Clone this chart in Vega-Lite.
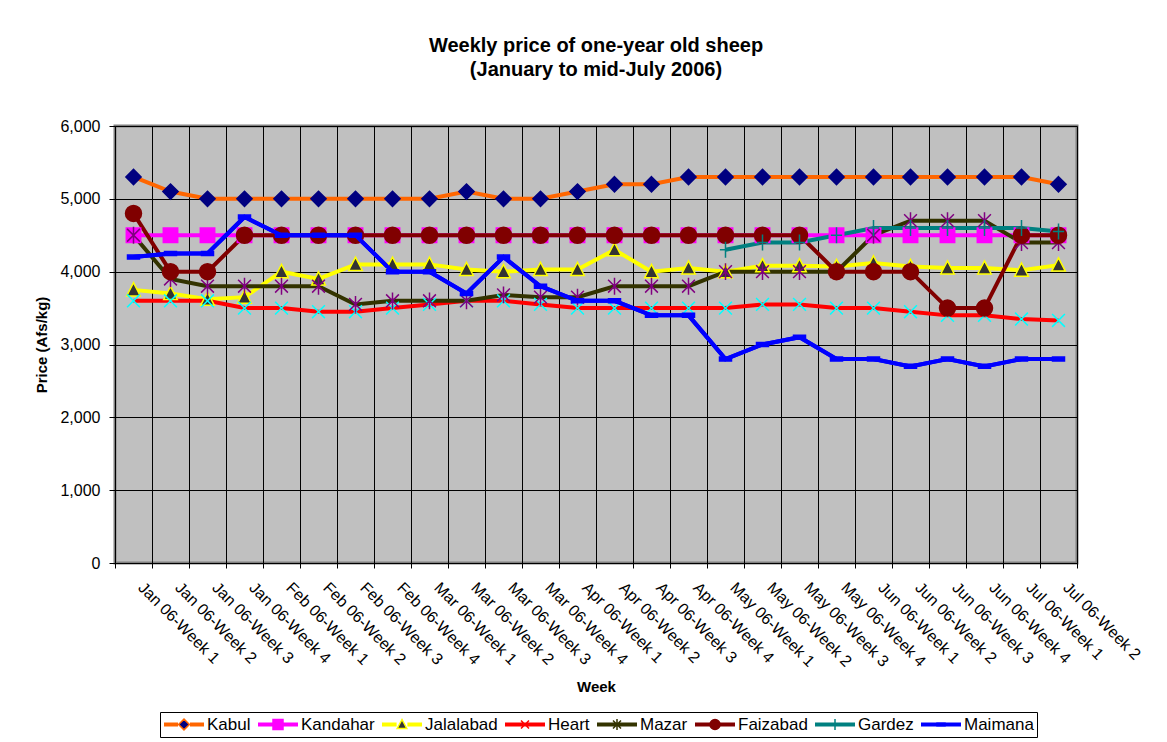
{
  "$schema": "https://vega.github.io/schema/vega-lite/v6.json",
  "width": 962,
  "height": 437,
  "autosize": {"type": "none"},
  "padding": {"left": 115, "top": 126, "right": 90, "bottom": 179},
  "background": "white",
  "title": {
    "text": ["Weekly price of one-year old sheep", "(January to mid-July 2006)"],
    "font": "Liberation Sans",
    "fontSize": 20,
    "fontWeight": "bold",
    "color": "black",
    "lineHeight": 24,
    "offset": 38,
    "anchor": "middle",
    "frame": "group"
  },
  "config": {
    "font": "Liberation Sans",
    "view": {"fill": "#C0C0C0", "stroke": "#808080", "strokeWidth": 3}
  },
  "data": {
    "values": [
      {"week": "Jan 06-Week 1", "city": "Kabul", "price": 5300},
      {"week": "Jan 06-Week 2", "city": "Kabul", "price": 5100},
      {"week": "Jan 06-Week 3", "city": "Kabul", "price": 5000},
      {"week": "Jan 06-Week 4", "city": "Kabul", "price": 5000},
      {"week": "Feb 06-Week 1", "city": "Kabul", "price": 5000},
      {"week": "Feb 06-Week 2", "city": "Kabul", "price": 5000},
      {"week": "Feb 06-Week 3", "city": "Kabul", "price": 5000},
      {"week": "Feb 06-Week 4", "city": "Kabul", "price": 5000},
      {"week": "Mar 06-Week 1", "city": "Kabul", "price": 5000},
      {"week": "Mar 06-Week 2", "city": "Kabul", "price": 5100},
      {"week": "Mar 06-Week 3", "city": "Kabul", "price": 5000},
      {"week": "Mar 06-Week 4", "city": "Kabul", "price": 5000},
      {"week": "Apr 06-Week 1", "city": "Kabul", "price": 5100},
      {"week": "Apr 06-Week 2", "city": "Kabul", "price": 5200},
      {"week": "Apr 06-Week 3", "city": "Kabul", "price": 5200},
      {"week": "Apr 06-Week 4", "city": "Kabul", "price": 5300},
      {"week": "May 06-Week 1", "city": "Kabul", "price": 5300},
      {"week": "May 06-Week 2", "city": "Kabul", "price": 5300},
      {"week": "May 06-Week 3", "city": "Kabul", "price": 5300},
      {"week": "May 06-Week 4", "city": "Kabul", "price": 5300},
      {"week": "Jun 06-Week 1", "city": "Kabul", "price": 5300},
      {"week": "Jun 06-Week 2", "city": "Kabul", "price": 5300},
      {"week": "Jun 06-Week 3", "city": "Kabul", "price": 5300},
      {"week": "Jun 06-Week 4", "city": "Kabul", "price": 5300},
      {"week": "Jul 06-Week 1", "city": "Kabul", "price": 5300},
      {"week": "Jul 06-Week 2", "city": "Kabul", "price": 5200},

      {"week": "Jan 06-Week 1", "city": "Kandahar", "price": 4500},
      {"week": "Jan 06-Week 2", "city": "Kandahar", "price": 4500},
      {"week": "Jan 06-Week 3", "city": "Kandahar", "price": 4500},
      {"week": "Jan 06-Week 4", "city": "Kandahar", "price": 4500},
      {"week": "Feb 06-Week 1", "city": "Kandahar", "price": 4500},
      {"week": "Feb 06-Week 2", "city": "Kandahar", "price": 4500},
      {"week": "Feb 06-Week 3", "city": "Kandahar", "price": 4500},
      {"week": "Feb 06-Week 4", "city": "Kandahar", "price": 4500},
      {"week": "Mar 06-Week 1", "city": "Kandahar", "price": 4500},
      {"week": "Mar 06-Week 2", "city": "Kandahar", "price": 4500},
      {"week": "Mar 06-Week 3", "city": "Kandahar", "price": 4500},
      {"week": "Mar 06-Week 4", "city": "Kandahar", "price": 4500},
      {"week": "Apr 06-Week 1", "city": "Kandahar", "price": 4500},
      {"week": "Apr 06-Week 2", "city": "Kandahar", "price": 4500},
      {"week": "Apr 06-Week 3", "city": "Kandahar", "price": 4500},
      {"week": "Apr 06-Week 4", "city": "Kandahar", "price": 4500},
      {"week": "May 06-Week 1", "city": "Kandahar", "price": 4500},
      {"week": "May 06-Week 2", "city": "Kandahar", "price": 4500},
      {"week": "May 06-Week 3", "city": "Kandahar", "price": 4500},
      {"week": "May 06-Week 4", "city": "Kandahar", "price": 4500},
      {"week": "Jun 06-Week 1", "city": "Kandahar", "price": 4500},
      {"week": "Jun 06-Week 2", "city": "Kandahar", "price": 4500},
      {"week": "Jun 06-Week 3", "city": "Kandahar", "price": 4500},
      {"week": "Jun 06-Week 4", "city": "Kandahar", "price": 4500},
      {"week": "Jul 06-Week 1", "city": "Kandahar", "price": 4500},
      {"week": "Jul 06-Week 2", "city": "Kandahar", "price": 4500},

      {"week": "Jan 06-Week 1", "city": "Jalalabad", "price": 3750},
      {"week": "Jan 06-Week 2", "city": "Jalalabad", "price": 3700},
      {"week": "Jan 06-Week 3", "city": "Jalalabad", "price": 3620},
      {"week": "Jan 06-Week 4", "city": "Jalalabad", "price": 3650},
      {"week": "Feb 06-Week 1", "city": "Jalalabad", "price": 4000},
      {"week": "Feb 06-Week 2", "city": "Jalalabad", "price": 3900},
      {"week": "Feb 06-Week 3", "city": "Jalalabad", "price": 4100},
      {"week": "Feb 06-Week 4", "city": "Jalalabad", "price": 4100},
      {"week": "Mar 06-Week 1", "city": "Jalalabad", "price": 4100},
      {"week": "Mar 06-Week 2", "city": "Jalalabad", "price": 4030},
      {"week": "Mar 06-Week 3", "city": "Jalalabad", "price": 4000},
      {"week": "Mar 06-Week 4", "city": "Jalalabad", "price": 4030},
      {"week": "Apr 06-Week 1", "city": "Jalalabad", "price": 4030},
      {"week": "Apr 06-Week 2", "city": "Jalalabad", "price": 4300},
      {"week": "Apr 06-Week 3", "city": "Jalalabad", "price": 4000},
      {"week": "Apr 06-Week 4", "city": "Jalalabad", "price": 4050},
      {"week": "May 06-Week 1", "city": "Jalalabad", "price": 4000},
      {"week": "May 06-Week 2", "city": "Jalalabad", "price": 4080},
      {"week": "May 06-Week 3", "city": "Jalalabad", "price": 4080},
      {"week": "May 06-Week 4", "city": "Jalalabad", "price": 4070},
      {"week": "Jun 06-Week 1", "city": "Jalalabad", "price": 4120},
      {"week": "Jun 06-Week 2", "city": "Jalalabad", "price": 4070},
      {"week": "Jun 06-Week 3", "city": "Jalalabad", "price": 4050},
      {"week": "Jun 06-Week 4", "city": "Jalalabad", "price": 4050},
      {"week": "Jul 06-Week 1", "city": "Jalalabad", "price": 4020},
      {"week": "Jul 06-Week 2", "city": "Jalalabad", "price": 4090},

      {"week": "Jan 06-Week 1", "city": "Heart", "price": 3600},
      {"week": "Jan 06-Week 2", "city": "Heart", "price": 3600},
      {"week": "Jan 06-Week 3", "city": "Heart", "price": 3600},
      {"week": "Jan 06-Week 4", "city": "Heart", "price": 3500},
      {"week": "Feb 06-Week 1", "city": "Heart", "price": 3500},
      {"week": "Feb 06-Week 2", "city": "Heart", "price": 3450},
      {"week": "Feb 06-Week 3", "city": "Heart", "price": 3450},
      {"week": "Feb 06-Week 4", "city": "Heart", "price": 3500},
      {"week": "Mar 06-Week 1", "city": "Heart", "price": 3550},
      {"week": "Mar 06-Week 2", "city": "Heart", "price": 3600},
      {"week": "Mar 06-Week 3", "city": "Heart", "price": 3600},
      {"week": "Mar 06-Week 4", "city": "Heart", "price": 3550},
      {"week": "Apr 06-Week 1", "city": "Heart", "price": 3500},
      {"week": "Apr 06-Week 2", "city": "Heart", "price": 3500},
      {"week": "Apr 06-Week 3", "city": "Heart", "price": 3500},
      {"week": "Apr 06-Week 4", "city": "Heart", "price": 3500},
      {"week": "May 06-Week 1", "city": "Heart", "price": 3500},
      {"week": "May 06-Week 2", "city": "Heart", "price": 3550},
      {"week": "May 06-Week 3", "city": "Heart", "price": 3550},
      {"week": "May 06-Week 4", "city": "Heart", "price": 3500},
      {"week": "Jun 06-Week 1", "city": "Heart", "price": 3500},
      {"week": "Jun 06-Week 2", "city": "Heart", "price": 3450},
      {"week": "Jun 06-Week 3", "city": "Heart", "price": 3400},
      {"week": "Jun 06-Week 4", "city": "Heart", "price": 3400},
      {"week": "Jul 06-Week 1", "city": "Heart", "price": 3350},
      {"week": "Jul 06-Week 2", "city": "Heart", "price": 3330},

      {"week": "Jan 06-Week 1", "city": "Mazar", "price": 4500},
      {"week": "Jan 06-Week 2", "city": "Mazar", "price": 3900},
      {"week": "Jan 06-Week 3", "city": "Mazar", "price": 3800},
      {"week": "Jan 06-Week 4", "city": "Mazar", "price": 3800},
      {"week": "Feb 06-Week 1", "city": "Mazar", "price": 3800},
      {"week": "Feb 06-Week 2", "city": "Mazar", "price": 3800},
      {"week": "Feb 06-Week 3", "city": "Mazar", "price": 3550},
      {"week": "Feb 06-Week 4", "city": "Mazar", "price": 3600},
      {"week": "Mar 06-Week 1", "city": "Mazar", "price": 3600},
      {"week": "Mar 06-Week 2", "city": "Mazar", "price": 3600},
      {"week": "Mar 06-Week 3", "city": "Mazar", "price": 3680},
      {"week": "Mar 06-Week 4", "city": "Mazar", "price": 3650},
      {"week": "Apr 06-Week 1", "city": "Mazar", "price": 3650},
      {"week": "Apr 06-Week 2", "city": "Mazar", "price": 3800},
      {"week": "Apr 06-Week 3", "city": "Mazar", "price": 3800},
      {"week": "Apr 06-Week 4", "city": "Mazar", "price": 3800},
      {"week": "May 06-Week 1", "city": "Mazar", "price": 4000},
      {"week": "May 06-Week 2", "city": "Mazar", "price": 4000},
      {"week": "May 06-Week 3", "city": "Mazar", "price": 4000},
      {"week": "May 06-Week 4", "city": "Mazar", "price": 4000},
      {"week": "Jun 06-Week 1", "city": "Mazar", "price": 4500},
      {"week": "Jun 06-Week 2", "city": "Mazar", "price": 4700},
      {"week": "Jun 06-Week 3", "city": "Mazar", "price": 4700},
      {"week": "Jun 06-Week 4", "city": "Mazar", "price": 4700},
      {"week": "Jul 06-Week 1", "city": "Mazar", "price": 4400},
      {"week": "Jul 06-Week 2", "city": "Mazar", "price": 4400},

      {"week": "Jan 06-Week 1", "city": "Faizabad", "price": 4800},
      {"week": "Jan 06-Week 2", "city": "Faizabad", "price": 4000},
      {"week": "Jan 06-Week 3", "city": "Faizabad", "price": 4000},
      {"week": "Jan 06-Week 4", "city": "Faizabad", "price": 4500},
      {"week": "Feb 06-Week 1", "city": "Faizabad", "price": 4500},
      {"week": "Feb 06-Week 2", "city": "Faizabad", "price": 4500},
      {"week": "Feb 06-Week 3", "city": "Faizabad", "price": 4500},
      {"week": "Feb 06-Week 4", "city": "Faizabad", "price": 4500},
      {"week": "Mar 06-Week 1", "city": "Faizabad", "price": 4500},
      {"week": "Mar 06-Week 2", "city": "Faizabad", "price": 4500},
      {"week": "Mar 06-Week 3", "city": "Faizabad", "price": 4500},
      {"week": "Mar 06-Week 4", "city": "Faizabad", "price": 4500},
      {"week": "Apr 06-Week 1", "city": "Faizabad", "price": 4500},
      {"week": "Apr 06-Week 2", "city": "Faizabad", "price": 4500},
      {"week": "Apr 06-Week 3", "city": "Faizabad", "price": 4500},
      {"week": "Apr 06-Week 4", "city": "Faizabad", "price": 4500},
      {"week": "May 06-Week 1", "city": "Faizabad", "price": 4500},
      {"week": "May 06-Week 2", "city": "Faizabad", "price": 4500},
      {"week": "May 06-Week 3", "city": "Faizabad", "price": 4500},
      {"week": "May 06-Week 4", "city": "Faizabad", "price": 4000},
      {"week": "Jun 06-Week 1", "city": "Faizabad", "price": 4000},
      {"week": "Jun 06-Week 2", "city": "Faizabad", "price": 4000},
      {"week": "Jun 06-Week 3", "city": "Faizabad", "price": 3500},
      {"week": "Jun 06-Week 4", "city": "Faizabad", "price": 3500},
      {"week": "Jul 06-Week 1", "city": "Faizabad", "price": 4500},
      {"week": "Jul 06-Week 2", "city": "Faizabad", "price": 4500},

      {"week": "May 06-Week 1", "city": "Gardez", "price": 4300},
      {"week": "May 06-Week 2", "city": "Gardez", "price": 4400},
      {"week": "May 06-Week 3", "city": "Gardez", "price": 4400},
      {"week": "May 06-Week 4", "city": "Gardez", "price": 4500},
      {"week": "Jun 06-Week 1", "city": "Gardez", "price": 4600},
      {"week": "Jun 06-Week 2", "city": "Gardez", "price": 4600},
      {"week": "Jun 06-Week 3", "city": "Gardez", "price": 4600},
      {"week": "Jun 06-Week 4", "city": "Gardez", "price": 4600},
      {"week": "Jul 06-Week 1", "city": "Gardez", "price": 4600},
      {"week": "Jul 06-Week 2", "city": "Gardez", "price": 4550},

      {"week": "Jan 06-Week 1", "city": "Maimana", "price": 4200},
      {"week": "Jan 06-Week 2", "city": "Maimana", "price": 4250},
      {"week": "Jan 06-Week 3", "city": "Maimana", "price": 4250},
      {"week": "Jan 06-Week 4", "city": "Maimana", "price": 4750},
      {"week": "Feb 06-Week 1", "city": "Maimana", "price": 4500},
      {"week": "Feb 06-Week 2", "city": "Maimana", "price": 4500},
      {"week": "Feb 06-Week 3", "city": "Maimana", "price": 4500},
      {"week": "Feb 06-Week 4", "city": "Maimana", "price": 4000},
      {"week": "Mar 06-Week 1", "city": "Maimana", "price": 4000},
      {"week": "Mar 06-Week 2", "city": "Maimana", "price": 3700},
      {"week": "Mar 06-Week 3", "city": "Maimana", "price": 4200},
      {"week": "Mar 06-Week 4", "city": "Maimana", "price": 3800},
      {"week": "Apr 06-Week 1", "city": "Maimana", "price": 3600},
      {"week": "Apr 06-Week 2", "city": "Maimana", "price": 3600},
      {"week": "Apr 06-Week 3", "city": "Maimana", "price": 3400},
      {"week": "Apr 06-Week 4", "city": "Maimana", "price": 3400},
      {"week": "May 06-Week 1", "city": "Maimana", "price": 2800},
      {"week": "May 06-Week 2", "city": "Maimana", "price": 3000},
      {"week": "May 06-Week 3", "city": "Maimana", "price": 3100},
      {"week": "May 06-Week 4", "city": "Maimana", "price": 2800},
      {"week": "Jun 06-Week 1", "city": "Maimana", "price": 2800},
      {"week": "Jun 06-Week 2", "city": "Maimana", "price": 2700},
      {"week": "Jun 06-Week 3", "city": "Maimana", "price": 2800},
      {"week": "Jun 06-Week 4", "city": "Maimana", "price": 2700},
      {"week": "Jul 06-Week 1", "city": "Maimana", "price": 2800},
      {"week": "Jul 06-Week 2", "city": "Maimana", "price": 2800}
    ]
  },
  "encoding": {
    "x": {
      "field": "week",
      "type": "ordinal",
      "sort": null,
      "scale": {
        "type": "band",
        "paddingInner": 0,
        "paddingOuter": 0,
        "domain": ["Jan 06-Week 1","Jan 06-Week 2","Jan 06-Week 3","Jan 06-Week 4","Feb 06-Week 1","Feb 06-Week 2","Feb 06-Week 3","Feb 06-Week 4","Mar 06-Week 1","Mar 06-Week 2","Mar 06-Week 3","Mar 06-Week 4","Apr 06-Week 1","Apr 06-Week 2","Apr 06-Week 3","Apr 06-Week 4","May 06-Week 1","May 06-Week 2","May 06-Week 3","May 06-Week 4","Jun 06-Week 1","Jun 06-Week 2","Jun 06-Week 3","Jun 06-Week 4","Jul 06-Week 1","Jul 06-Week 2"]
      },
      "axis": {
        "title": "Week",
        "titleFontSize": 15,
        "titleFontWeight": "bold",
        "titleColor": "black",
        "titleY": 128,
        "titleBaseline": "alphabetic",
        "bandPosition": 1,
        "tickExtra": true,
        "grid": true,
        "gridColor": "black",
        "gridOpacity": 1,
        "gridWidth": 1,
        "ticks": true,
        "tickColor": "black",
        "tickSize": 5,
        "domainColor": "black",
        "labelAngle": 45,
        "labelAlign": "left",
        "labelBaseline": "top",
        "labelOffset": 13,
        "labelPadding": 11,
        "labelFontSize": 16,
        "labelColor": "black",
        "labelOverlap": false,
        "labelBound": false
      }
    },
    "y": {
      "field": "price",
      "type": "quantitative",
      "scale": {"domain": [0, 6000], "nice": false},
      "axis": {
        "title": "Price (Afs/kg)",
        "titleFontSize": 15,
        "titleFontWeight": "bold",
        "titleColor": "black",
        "titleX": -74,
        "titleY": 218.5,
        "titleBaseline": "middle",
        "values": [0, 1000, 2000, 3000, 4000, 5000, 6000],
        "format": ",.0f",
        "grid": true,
        "gridColor": "black",
        "gridOpacity": 1,
        "tickColor": "black",
        "tickSize": 6,
        "labelPadding": 9,
        "labelFontSize": 16,
        "labelColor": "black",
        "domainColor": "black"
      }
    }
  },
  "layer": [
    {
      "mark": {"type": "line", "strokeWidth": 4},
      "encoding": {
        "color": {
          "field": "city",
          "type": "nominal",
          "sort": null,
          "scale": {"range": ["#FF6600", "#FF00FF", "#FFFF00", "#FF0000", "#333300", "#800000", "#008080", "#0000FF"]},
          "legend": {
            "orient": "none",
            "legendX": 45,
            "legendY": 586,
            "direction": "horizontal",
            "columns": 8,
            "title": null,
            "symbolType": "stroke",
            "symbolSize": 1600,
            "symbolStrokeWidth": 1.5,
            "labelFontSize": 17,
            "labelColor": "black",
            "labelOffset": 2,
            "columnPadding": 6,
            "padding": 3,
            "clipHeight": 19,
            "strokeColor": "black",
            "fillColor": "white",
            "encode": {
              "symbols": {
                "update": {
                  "strokeWidth": {"value": 1.5},
                  "shape": {"signal": "datum.value === 'Kabul' ? 'M-1,-0.06L-0.3,-0.06M-1,0L-0.3,0M-1,0.06L-0.3,0.06M0.3,-0.06L1,-0.06M0.3,0L1,0M0.3,0.06L1,0.06M0,-0.27L0.27,0L0,0.27L-0.27,0Z' : datum.value === 'Kandahar' ? 'M-1,-0.06L-0.28,-0.06M-1,0L-0.28,0M-1,0.06L-0.28,0.06M0.28,-0.06L1,-0.06M0.28,0L1,0M0.28,0.06L1,0.06M-0.25,-0.25L0.25,-0.25L0.25,0.25L-0.25,0.25Z' : datum.value === 'Jalalabad' ? 'M-1,-0.06L-0.27,-0.06M-1,0L-0.27,0M-1,0.06L-0.27,0.06M0.27,-0.06L1,-0.06M0.27,0L1,0M0.27,0.06L1,0.06M0,-0.25L0.24,0.2L-0.24,0.2Z' : datum.value === 'Heart' ? 'M-1,-0.06L1,-0.06M-1,0L1,0M-1,0.06L1,0.06M-0.2,-0.2L0.2,0.2M-0.2,0.2L0.2,-0.2' : datum.value === 'Mazar' ? 'M-1,-0.06L1,-0.06M-1,0L1,0M-1,0.06L1,0.06M-0.2,-0.2L0.2,0.2M-0.2,0.2L0.2,-0.2M0,-0.27L0,0.27' : datum.value === 'Faizabad' ? 'M-1,-0.06L-0.27,-0.06M-1,0L-0.27,0M-1,0.06L-0.27,0.06M0.27,-0.06L1,-0.06M0.27,0L1,0M0.27,0.06L1,0.06M-0.25,0A0.25,0.25,0,1,0,0.25,0A0.25,0.25,0,1,0,-0.25,0Z' : datum.value === 'Gardez' ? 'M-1,-0.06L1,-0.06M-1,0L1,0M-1,0.06L1,0.06M0,-0.27L0,0.27' : 'M-1,-0.06L1,-0.06M-1,0L1,0M-1,0.06L1,0.06M-0.2,-0.08L0.2,-0.08L0.2,0.08L-0.2,0.08Z'"},
                  "fill": {"signal": "datum.value === 'Kabul' ? '#000080' : datum.value === 'Kandahar' ? '#FF00FF' : datum.value === 'Jalalabad' ? '#333333' : datum.value === 'Heart' ? '#00FFFF' : datum.value === 'Mazar' ? '#800080' : datum.value === 'Faizabad' ? '#800000' : datum.value === 'Gardez' ? '#008080' : '#0000FF'"}
                }
              }
            }
          }
        }
      }
    },
    {
      "transform": [{"filter": "datum.city !== 'Maimana'"}],
      "mark": {"type": "point", "filled": true, "size": 256, "strokeWidth": 1.5, "opacity": 1},
      "encoding": {
        "shape": {
          "field": "city",
          "type": "nominal",
          "legend": null,
          "scale": {
            "domain": ["Kabul", "Kandahar", "Jalalabad", "Heart", "Mazar", "Faizabad", "Gardez", "Maimana"],
            "range": [
              "M0,-0.95L0.95,0L0,0.95L-0.95,0Z",
              "M-0.9,-0.9L0.9,-0.9L0.9,0.9L-0.9,0.9Z",
              "M0,-0.9L0.85,0.75L-0.85,0.75Z",
              "M-0.8,-0.8L0.8,0.8M-0.8,0.8L0.8,-0.8",
              "M-0.8,-0.8L0.8,0.8M-0.8,0.8L0.8,-0.8M0,-1.05L0,1.05",
              "M-1,0A1,1,0,1,0,1,0A1,1,0,1,0,-1,0Z",
              "M-0.7,0L0.7,0M0,-1L0,1",
              "M-0.75,-0.25L0.75,-0.25L0.75,0.25L-0.75,0.25Z"
            ]
          }
        },
        "fill": {
          "field": "city",
          "type": "nominal",
          "legend": null,
          "scale": {
            "domain": ["Kabul", "Kandahar", "Jalalabad", "Heart", "Mazar", "Faizabad", "Gardez", "Maimana"],
            "range": ["#000080", "#FF00FF", "#333333", "#00FFFF", "#800080", "#800000", "#008080", "#0000FF"]
          }
        },
        "stroke": {
          "field": "city",
          "type": "nominal",
          "legend": null,
          "scale": {
            "domain": ["Kabul", "Kandahar", "Jalalabad", "Heart", "Mazar", "Faizabad", "Gardez", "Maimana"],
            "range": ["#000080", "#FF00FF", "#FFFF00", "#00FFFF", "#800080", "#800000", "#008080", "#0000FF"]
          }
        }
      }
    },
    {
      "transform": [{"filter": "datum.city === 'Maimana'"}],
      "mark": {"type": "line", "strokeWidth": 4, "color": "#0000FF"},
      "encoding": {}
    },
    {
      "transform": [{"filter": "datum.city === 'Maimana'"}],
      "mark": {"type": "point", "filled": true, "size": 256, "strokeWidth": 1.5, "opacity": 1},
      "encoding": {
        "shape": {"field": "city", "type": "nominal", "legend": null},
        "fill": {"field": "city", "type": "nominal", "legend": null},
        "stroke": {"field": "city", "type": "nominal", "legend": null}
      }
    }
  ]
}
